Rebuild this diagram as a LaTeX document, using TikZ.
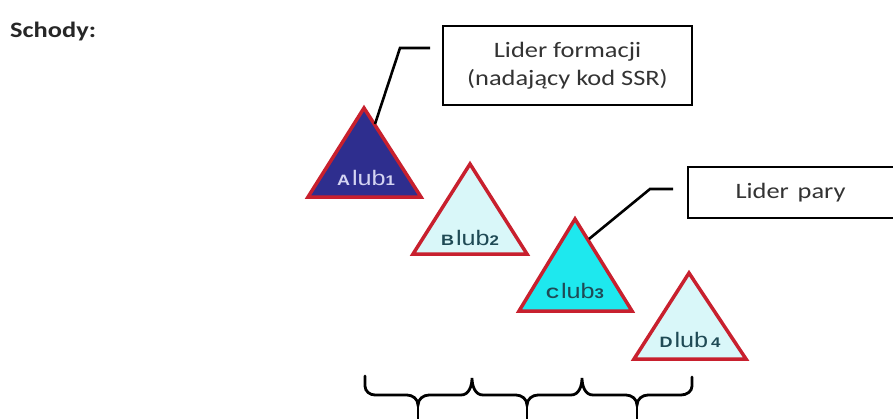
\documentclass[tikz,border=0pt]{standalone}
\usepackage{graphicx}
\usepackage{fontspec}
\setmainfont{Carlito}
\newfontfamily\trifont{Liberation Sans}
\definecolor{trired}{HTML}{C8202E}
\definecolor{navyfill}{HTML}{2E2E8E}
\definecolor{palecyan}{HTML}{D9F7F9}
\definecolor{brightcyan}{HTML}{1EE8EE}
\definecolor{labdark}{HTML}{1F4A55}
\definecolor{lablight}{HTML}{D4D4F2}
\definecolor{boxtext}{HTML}{333333}
\newcommand\wx[1]{\scalebox{1.2}[1]{#1}}
\newcommand\trilab[2]{\wx{{\bfseries\fontsize{15}{15}\selectfont #1}\,{\fontsize{21}{21}\selectfont lub}{\bfseries\fontsize{14}{14}\selectfont #2}}}
\begin{document}
\begin{tikzpicture}[x=1pt,y=-1pt,
  tri/.style={draw=trired,line width=3.5pt,line join=miter},
  lbl/.style={font=\trifont,inner sep=0pt,anchor=base},
  callout/.style={draw=black,line width=2.5pt,fill=white,inner sep=0pt,align=center,font=\fontsize{22}{28}\selectfont,text=boxtext},
  leader/.style={draw=black,line width=2.6pt},
  bracepath/.style={draw=black,line width=2.8pt,line cap=round}]
\clip (0,0) rectangle (893,418);
\useasboundingbox (0,0) rectangle (893,418);
\fill[white] (0,0) rectangle (893,418);

\node[anchor=base west,inner sep=0pt,font=\bfseries\fontsize{22}{22}\selectfont,text=black!85] (title) at (10,37) {\wx{Schody:}};

% triangles
\coordinate (Aa) at (364,108); \coordinate (Al) at (308,197); \coordinate (Ar) at (421,197);
\coordinate (Ba) at (470,164); \coordinate (Bl) at (413,254); \coordinate (Br) at (527,254);
\coordinate (Ca) at (575,219); \coordinate (Cl) at (519,311); \coordinate (Cr) at (632,311);
\coordinate (Da) at (689,273); \coordinate (Dl) at (634,359); \coordinate (Dr) at (746,359);
\filldraw[tri,fill=navyfill] (Aa) -- (Al) -- (Ar) -- cycle;
\filldraw[tri,fill=palecyan] (Ba) -- (Bl) -- (Br) -- cycle;
\filldraw[tri,fill=brightcyan] (Ca) -- (Cl) -- (Cr) -- cycle;
\filldraw[tri,fill=palecyan] (Da) -- (Dl) -- (Dr) -- cycle;

\node[lbl,text=lablight] (la) at (366,185) {\trilab{A}{1}};
\node[lbl,text=labdark] (lb) at (470,245) {\trilab{B}{2}};
\node[lbl,text=labdark] (lc) at (575,298) {\trilab{C}{3}};
\node[lbl,text=labdark] (ld) at (690,347) {\trilab{D}{\,4}};

% callout boxes
\node[callout,minimum width=249pt,minimum height=79pt] (box1) at (567.5,65.5) {\wx{Lider formacji}\\\wx{(nadający kod SSR)}};
\node[callout,minimum width=215pt,minimum height=51pt,text width=200pt,align=left] (box2) at (795.5,192.5) {\hspace*{40pt}\wx{Lider pary}};

% leaders
\coordinate (l1s) at (430,48); \coordinate (l1k) at (400,48); \coordinate (l1e) at (375,124);
\draw[leader] (l1s) -- (l1k) -- (l1e);
\coordinate (l2s) at (673,189); \coordinate (l2k) at (650,189); \coordinate (l2e) at (589,239);
\draw[leader] (l2s) -- (l2k) -- (l2e);

% braces
\draw[bracepath] (365,376) -- (365,386) to[out=-90,in=180] (375,395) -- (407,395) to[out=0,in=90] (418,405) to[out=90,in=180] (429,395) -- (461,395) to[out=0,in=-90] (472,378) to[out=-90,in=180] (483,395) -- (516,395) to[out=0,in=90] (527,405) to[out=90,in=180] (538,395) -- (571,395) to[out=0,in=-90] (582,378) to[out=-90,in=180] (593,395) -- (626,395) to[out=0,in=90] (637,405) to[out=90,in=180] (648,395) -- (681,395) to[out=0,in=-90] (692,386) -- (692,377);
\draw[bracepath] (418,405) -- (418,420);
\draw[bracepath] (527,405) -- (527,420);
\draw[bracepath] (637,405) -- (637,420);
\end{tikzpicture}
\end{document}
